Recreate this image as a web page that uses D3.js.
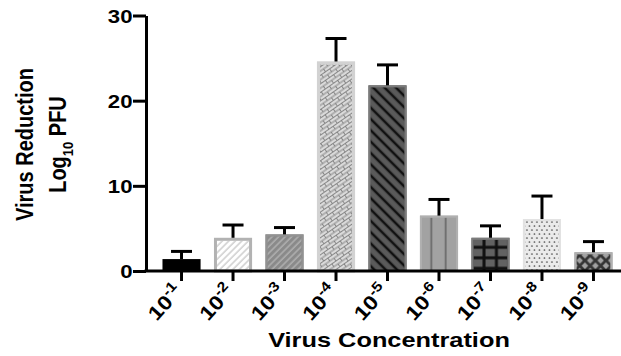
<!DOCTYPE html>
<html>
<head>
<meta charset="utf-8">
<script src="https://cdn.jsdelivr.net/npm/d3@7"></script>
<style>
  html, body { margin: 0; padding: 0; background: #fff; }
  svg { display: block; }
  text { font-family: "Liberation Sans", Arial, sans-serif; font-weight: bold; fill: #000; }
</style>
</head>
<body>
<script>
// Dilution exponents (10^x) shown on the x axis
const exponents = ["-1", "-2", "-3", "-4", "-5", "-6", "-7", "-8", "-9"];
// Mean virus reduction (log10 PFU) per dilution
const reduction = [1.4, 3.9, 4.3, 24.6, 21.8, 6.5, 3.9, 6.1, 2.2];
// Upper error (SD) per dilution
const errorUp = [0.9, 1.5, 0.8, 2.7, 2.4, 1.9, 1.4, 2.7, 1.25];
// Y axis ticks
const yTicks = [0, 10, 20, 30];

const W = 621, H = 356;
const svg = d3.select("body").append("svg").attr("width", W).attr("height", H);
const defs = svg.append("defs");

const x = d3.scaleBand().domain(exponents).range([146, 629])
  .paddingInner(0.26).paddingOuter(0.32);
const y = d3.scaleLinear().domain([0, 30]).range([271, 15.5]);

// Per-bar fill styles (grayscale patterns)
const styles = [
  { fill: "#000000", border: "#000000", bw: 0, pat: null },
  { fill: "#ffffff", border: "#b2b2b2", bw: 3, pat: "hatchLight" },
  { fill: "#8a8a8a", border: "#929292", bw: 2, pat: "hatchMid" },
  { fill: "#dadada", border: "#d2d2d2", bw: 3, pat: "brick" },
  { fill: "#5a5a5a", border: "#7a7a7a", bw: 2, pat: "hatchDark" },
  { fill: "#a2a2a2", border: "#b0b0b0", bw: 2, pat: "vlines" },
  { fill: "#626262", border: "#7c7c7c", bw: 2, pat: "grid" },
  { fill: "#ebebeb", border: "#e2e2e2", bw: 2, pat: "dots" },
  { fill: "#a2a2a2", border: "#b0b0b0", bw: 2, pat: "cross" }
];

function mkPattern(id, w, h, opts) {
  const p = defs.append("pattern").attr("id", id)
    .attr("patternUnits", "userSpaceOnUse")
    .attr("width", w).attr("height", h)
    .attr("x", opts.x || 0).attr("y", opts.y || 0);
  if (opts.transform) p.attr("patternTransform", opts.transform);
  return p;
}

exponents.forEach((e, i) => {
  const s = styles[i];
  const bx = x(e);
  const id = "pat" + i;
  if (s.pat === "hatchLight") {
    mkPattern(id, 4.6, 4.6, { transform: "rotate(45)" })
      .append("line").attr("x1", 1).attr("y1", 0).attr("x2", 1).attr("y2", 4.6)
      .attr("stroke", "#c6c6c6").attr("stroke-width", 1.3);
  } else if (s.pat === "hatchMid") {
    mkPattern(id, 4.6, 4.6, { transform: "rotate(45)" })
      .append("line").attr("x1", 1).attr("y1", 0).attr("x2", 1).attr("y2", 4.6)
      .attr("stroke", "#c2c2c2").attr("stroke-width", 1);
  } else if (s.pat === "hatchDark") {
    mkPattern(id, 8, 8, { transform: "rotate(-45)" })
      .append("line").attr("x1", 2).attr("y1", 0).attr("x2", 2).attr("y2", 8)
      .attr("stroke", "#111").attr("stroke-width", 2.6);
  } else if (s.pat === "brick") {
    // staggered bricks, tilted so the rows climb to the right
    mkPattern(id, 10, 7, { transform: "rotate(-35)" })
      .append("path")
      .attr("d", "M0,0.5H10M0,4H10M0.5,0.5V4M5.5,4V7.5")
      .attr("fill", "none").attr("stroke", "#7e7e7e").attr("stroke-width", 0.9);
  } else if (s.pat === "vlines") {
    mkPattern(id, 14.3, 10, { x: bx + 12.4 - 14.3 })
      .append("rect").attr("x", 12.3).attr("y", 0).attr("width", 4).attr("height", 10)
      .attr("fill", "#707070");
  } else if (s.pat === "grid") {
    const p = mkPattern(id, 12.4, 10.5, { x: bx + 0.2, y: y(0) - 2.7 });
    p.append("rect").attr("x", -1.5).attr("y", 0).attr("width", 3).attr("height", 10.5).attr("fill", "#111");
    p.append("rect").attr("x", 10.9).attr("y", 0).attr("width", 3).attr("height", 10.5).attr("fill", "#111");
    p.append("rect").attr("x", 0).attr("y", -1.5).attr("width", 12.4).attr("height", 3).attr("fill", "#111");
    p.append("rect").attr("x", 0).attr("y", 9).attr("width", 12.4).attr("height", 3).attr("fill", "#111");
  } else if (s.pat === "dots") {
    const p = mkPattern(id, 5, 8, { x: bx });
    p.append("circle").attr("cx", 1.5).attr("cy", 2).attr("r", 0.85).attr("fill", "#4a4a4a");
    p.append("circle").attr("cx", 4).attr("cy", 6).attr("r", 0.85).attr("fill", "#4a4a4a");
  } else if (s.pat === "cross") {
    mkPattern(id, 10.5, 10.5, { x: bx, y: y(0) })
      .append("path").attr("d", "M0,0L10.5,10.5M10.5,0L0,10.5M-1,9.5L1,11.5M9.5,-1L11.5,1")
      .attr("stroke", "#353535").attr("stroke-width", 2.8).attr("fill", "none");
  }
});

// Bars
const bars = svg.append("g");
exponents.forEach((e, i) => {
  const s = styles[i];
  const bx = x(e), bw = x.bandwidth();
  const top = y(reduction[i]), base = y(0);
  const g = bars.append("g");
  g.append("rect").attr("x", bx).attr("y", top).attr("width", bw).attr("height", base - top)
    .attr("fill", s.fill);
  if (s.pat) {
    const inset = s.bw;
    g.append("rect").attr("x", bx + inset).attr("y", top + inset)
      .attr("width", bw - 2 * inset).attr("height", Math.max(0, base - top - inset))
      .attr("fill", "url(#pat" + i + ")");
  }
  if (s.bw > 0) {
    g.append("rect").attr("x", bx + s.bw / 2).attr("y", top + s.bw / 2)
      .attr("width", bw - s.bw).attr("height", base - top - s.bw / 2)
      .attr("fill", "none").attr("stroke", s.border).attr("stroke-width", s.bw);
  }
});

// Error bars (upper only)
const err = svg.append("g").attr("stroke", "#000").attr("stroke-width", 3);
exponents.forEach((e, i) => {
  const cx = x(e) + x.bandwidth() / 2;
  const yt = y(reduction[i] + errorUp[i]);
  err.append("line").attr("x1", cx).attr("x2", cx).attr("y1", y(reduction[i])).attr("y2", yt);
  err.append("line").attr("x1", cx - 10.5).attr("x2", cx + 10.5).attr("y1", yt).attr("y2", yt);
});

// Y axis
const yAxis = svg.append("g").attr("transform", "translate(146,0)")
  .call(d3.axisLeft(y).tickValues(yTicks).tickSize(13).tickSizeOuter(0).tickFormat(d3.format("d")));
yAxis.selectAll("path, line").attr("stroke", "#000").attr("stroke-width", 3);
yAxis.selectAll("text")
  .attr("x", null).attr("dy", null)
  .attr("transform", "translate(-13.5,6.6) scale(1.2,1)")
  .attr("text-anchor", "end")
  .style("font-size", "18.5px")
  .style("font-family", "'Liberation Sans', Arial, sans-serif")
  .style("font-weight", "bold");

// X axis
const xAxis = svg.append("g").attr("transform", "translate(0," + y(0) + ")")
  .call(d3.axisBottom(x).tickSize(10).tickSizeOuter(0).tickFormat(""));
xAxis.selectAll("path, line").attr("stroke", "#000").attr("stroke-width", 3);
xAxis.select(".domain").attr("d", "M144.5,0H629");

// X tick labels: 10 with superscript exponent, rotated
const xl = svg.append("g");
exponents.forEach(e => {
  const cx = x(e) + x.bandwidth() / 2;
  const t = xl.append("text")
    .attr("transform", "translate(" + (cx + 2) + "," + 292 + ") rotate(-48) scale(1.15,1)")
    .attr("text-anchor", "end")
    .style("font-size", "20px");
  t.append("tspan").text("10");
  t.append("tspan").attr("dy", "-8").style("font-size", "14px").text(e);
});

// Axis titles
svg.append("text")
  .attr("transform", "translate(389,347) scale(1.3,1)")
  .attr("text-anchor", "middle")
  .style("font-size", "19.5px")
  .text("Virus Concentration");

svg.append("text")
  .attr("transform", "translate(33,144.5) scale(1.18,1) rotate(-90)")
  .attr("text-anchor", "middle")
  .style("font-size", "20px")
  .text("Virus Reduction");

const yt2 = svg.append("text")
  .attr("transform", "translate(66,144.5) scale(1.18,1) rotate(-90)")
  .attr("text-anchor", "middle")
  .style("font-size", "20px");
yt2.append("tspan").text("Log");
yt2.append("tspan").attr("dy", 6).style("font-size", "13px").text("10");
yt2.append("tspan").attr("dy", -6).text(" PFU");
</script>
</body>
</html>
